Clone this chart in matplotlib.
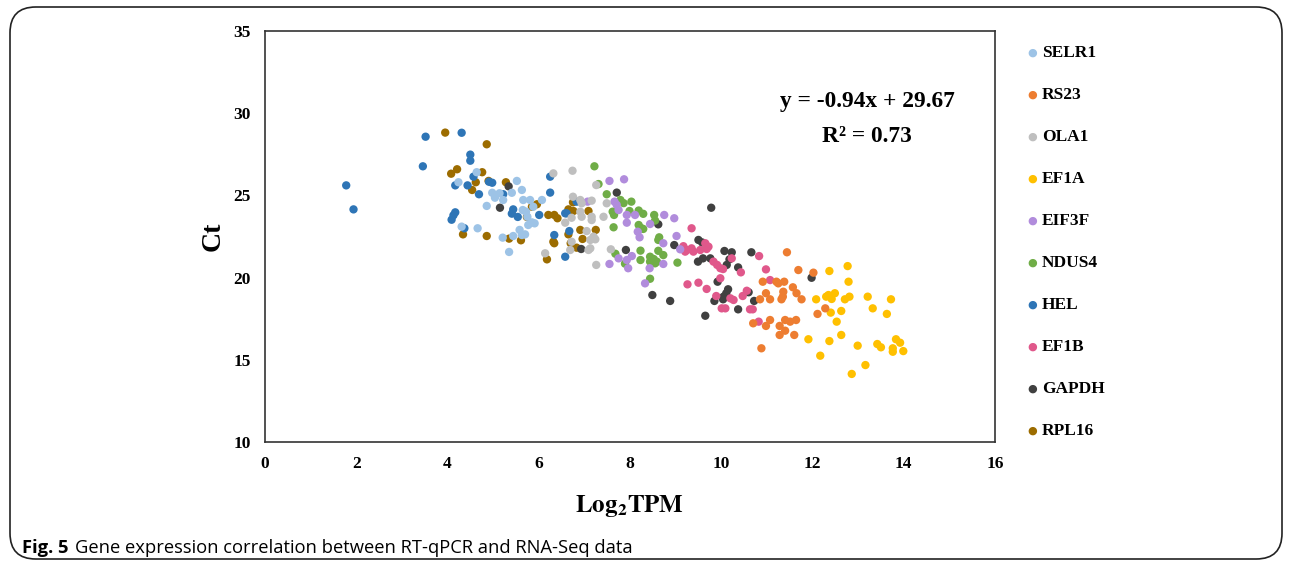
import matplotlib.pyplot as plt
from matplotlib.patches import FancyBboxPatch

plt.rcParams['mathtext.fontset'] = 'stix'

genes = ['SELR1', 'RS23', 'OLA1', 'EF1A', 'EIF3F', 'NDUS4', 'HEL', 'EF1B', 'GAPDH', 'RPL16']
colors = ['#9DC3E6', '#ED7D31', '#BFBFBF', '#FFC000', '#B18CDC',
          '#70AD47', '#2E75B6', '#E0588B', '#404040', '#9C6C00']

# (Log2TPM, Ct)
selr1_x = [4.64, 4.24, 4.98, 5.04, 5.14, 5.41, 5.52, 5.63, 5.22, 4.86, 5.66, 5.81, 5.65, 5.72,
           6.07, 5.88, 5.75, 5.85, 5.77, 5.91, 4.31, 4.66, 5.21, 5.44, 5.58, 5.63, 5.35, 5.70]
selr1_y = [26.41, 25.80, 25.16, 24.86, 25.13, 25.16, 25.88, 25.33, 24.72, 24.36, 24.72, 24.72, 24.11, 24.01,
           24.72, 24.31, 23.70, 23.36, 23.20, 23.30, 23.10, 23.00, 22.43, 22.53, 22.90, 22.59, 21.56, 22.63]

rs23_x = [11.44, 11.69, 12.02, 10.91, 11.21, 11.25, 11.38, 10.98, 11.36, 11.57, 11.65, 11.76, 10.85, 11.07,
          11.32, 11.35, 10.70, 10.98, 11.07, 11.28, 11.40, 11.51, 11.64, 11.28, 11.40, 11.60, 10.88, 12.11, 12.28]
rs23_y = [21.54, 20.46, 20.30, 19.75, 19.75, 19.65, 19.75, 19.05, 19.14, 19.41, 19.05, 18.68, 18.68, 18.68,
          18.68, 18.84, 17.22, 17.06, 17.42, 17.06, 17.42, 17.32, 17.42, 16.51, 16.77, 16.51, 15.70, 17.79, 18.13]

ola1_x = [6.32, 6.74, 7.26, 7.49, 7.42, 7.16, 6.75, 6.91, 6.94, 6.91, 6.94, 7.16, 7.16, 6.58,
          6.72, 7.05, 7.20, 7.24, 7.13, 7.09, 7.13, 7.26, 7.58, 6.14, 6.72, 6.69]
ola1_y = [26.34, 26.50, 25.63, 24.52, 23.70, 24.68, 24.92, 24.72, 24.52, 24.01, 23.70, 23.70, 23.50, 23.34,
          23.64, 22.83, 22.49, 22.33, 22.29, 21.68, 21.78, 20.77, 21.72, 21.48, 22.18, 21.68]

ef1a_x = [12.37, 12.77, 12.79, 12.08, 12.30, 12.35, 12.49, 12.42, 12.71, 12.81, 12.40, 12.63, 12.53, 12.63,
          11.91, 12.37, 12.17, 13.21, 13.72, 13.32, 13.63, 12.99, 13.42, 13.50, 13.83, 13.92, 13.76, 13.76,
          13.99, 13.16, 12.86]
ef1a_y = [20.40, 20.70, 19.75, 18.68, 18.84, 18.94, 19.05, 18.70, 18.68, 18.84, 17.87, 17.97, 17.32, 16.51,
          16.25, 16.14, 15.25, 18.84, 18.68, 18.13, 17.79, 15.86, 15.96, 15.76, 16.25, 16.04, 15.70, 15.49,
          15.53, 14.68, 14.14]

eif3f_x = [7.55, 7.87, 7.07, 7.66, 7.71, 7.75, 7.93, 8.11, 7.93, 8.44, 8.75, 8.97, 8.17, 8.21,
           8.73, 9.02, 9.10, 8.04, 7.75, 7.93, 7.96, 7.55, 8.43, 8.73, 8.33]
eif3f_y = [25.88, 25.98, 24.62, 24.62, 24.42, 24.11, 23.81, 23.81, 23.34, 23.26, 23.81, 23.61, 22.79, 22.45,
           22.09, 22.53, 21.72, 21.31, 21.17, 21.07, 20.57, 20.83, 20.57, 20.83, 19.65]

ndus4_x = [7.22, 7.31, 7.49, 7.79, 7.86, 8.03, 7.62, 7.65, 7.99, 8.19, 8.29, 8.53, 8.55, 8.19, 8.25, 8.29,
           7.64, 8.64, 8.62, 7.68, 7.89, 8.23, 8.23, 8.44, 8.52, 8.59, 8.44, 8.55, 8.62, 8.73, 9.04, 8.44]
ndus4_y = [26.77, 25.69, 25.07, 24.72, 24.53, 24.62, 24.01, 23.81, 24.05, 24.08, 23.88, 23.81, 23.47, 23.20,
           23.00, 22.96, 23.06, 22.45, 22.29, 21.45, 20.85, 21.64, 21.07, 21.27, 21.13, 20.97, 20.97, 20.87,
           21.63, 21.37, 20.91, 19.93]

hel_x = [3.52, 4.31, 3.46, 1.78, 1.94, 4.50, 4.50, 4.57, 4.17, 4.44, 4.69, 4.91, 4.98, 5.22, 4.17, 4.13,
         4.09, 4.37, 5.44, 5.41, 5.54, 6.01, 6.25, 6.25, 6.34, 6.58, 6.58, 6.67, 6.61, 6.83]
hel_y = [28.57, 28.81, 26.77, 25.61, 24.15, 27.48, 27.11, 26.14, 25.61, 25.61, 25.07, 25.83, 25.77, 25.07,
         23.97, 23.79, 23.52, 23.00, 24.15, 23.89, 23.69, 23.81, 26.14, 25.17, 22.59, 23.91, 21.27, 22.83,
         23.91, 24.62]

ef1b_x = [9.35, 9.17, 9.25, 9.35, 9.54, 9.68, 9.65, 9.72, 9.21, 9.39, 9.83, 9.91, 9.98, 10.04, 10.23, 10.43,
          10.83, 10.98, 11.07, 9.98, 9.26, 9.50, 9.68, 9.89, 10.20, 10.27, 10.01, 10.09, 10.47, 10.56, 10.63,
          10.69, 10.82]
ef1b_y = [23.00, 21.91, 21.68, 21.78, 21.68, 21.74, 22.09, 21.88, 21.58, 21.58, 20.97, 20.77, 20.57, 20.52,
          21.17, 20.32, 21.31, 20.50, 19.85, 19.96, 19.59, 19.69, 19.31, 18.88, 18.74, 18.64, 18.13, 18.13,
          18.88, 19.20, 18.07, 18.07, 17.32]

gapdh_x = [5.34, 5.15, 7.71, 8.62, 6.93, 7.91, 8.97, 9.50, 9.58, 9.78, 10.07, 10.23, 10.66, 9.49, 9.60, 9.76,
           10.18, 10.12, 10.37, 9.92, 10.15, 10.11, 10.05, 10.04, 9.85, 10.60, 10.72, 10.37, 9.65, 11.98,
           8.49, 8.88]
gapdh_y = [25.55, 24.25, 25.17, 23.24, 21.74, 21.68, 21.98, 22.29, 22.14, 24.25, 21.62, 21.54, 21.54, 20.97,
           21.17, 21.17, 21.11, 20.77, 20.62, 19.75, 19.29, 19.05, 18.84, 18.68, 18.58, 19.11, 18.58, 18.07,
           17.68, 19.99, 18.94, 18.58]

rpl16_x = [3.95, 4.86, 4.08, 4.21, 4.76, 4.62, 4.90, 4.54, 5.28, 5.74, 4.34, 4.86, 5.35, 5.61, 5.85, 5.96,
           6.21, 6.34, 6.41, 6.32, 6.34, 6.18, 6.75, 6.65, 6.76, 7.09, 6.91, 7.25, 6.65, 6.96, 6.70, 6.83]
rpl16_y = [28.82, 28.11, 26.32, 26.59, 26.41, 25.80, 25.88, 25.33, 25.80, 23.69, 22.63, 22.53, 22.37, 22.27,
           24.31, 24.46, 23.81, 23.81, 23.61, 22.18, 22.09, 21.11, 24.58, 24.15, 24.05, 24.05, 22.90, 22.90,
           22.63, 22.35, 22.09, 21.82]

series = [(selr1_x, selr1_y), (rs23_x, rs23_y), (ola1_x, ola1_y), (ef1a_x, ef1a_y), (eif3f_x, eif3f_y),
          (ndus4_x, ndus4_y), (hel_x, hel_y), (ef1b_x, ef1b_y), (gapdh_x, gapdh_y), (rpl16_x, rpl16_y)]

serif = 'Liberation Serif'

fig = plt.figure(figsize=(12.9, 5.63), dpi=100)

# rounded frame around the whole figure
frame = FancyBboxPatch((10 / 1290, 4 / 563), 1272 / 1290, 552 / 563,
                       boxstyle='round,pad=0,rounding_size=0.02', transform=fig.transFigure,
                       facecolor='none', edgecolor='#222222', linewidth=1.2, mutation_aspect=1290 / 563)
fig.patches.append(frame)

ax = fig.add_axes([265 / 1290, 1 - 442 / 563, 730 / 1290, 411 / 563])
# draw in reverse so the first series ends up on top
for i in range(len(series) - 1, -1, -1):
    x, y = series[i]
    ax.scatter(x, y, s=36, color=colors[i], edgecolors='none', zorder=3)

ax.set_xlim(0, 16)
ax.set_ylim(10, 35)
ax.set_xticks(range(0, 17, 2))
ax.set_yticks(range(10, 36, 5))
ax.tick_params(length=0, pad=10)
for lab in ax.get_xticklabels() + ax.get_yticklabels():
    lab.set_fontfamily(serif)
    lab.set_fontweight('bold')
    lab.set_fontsize(12.5)
for sp in ax.spines.values():
    sp.set_color('#333333')
    sp.set_linewidth(1.2)

ax.set_xlabel('$\\mathbf{Log_{2}TPM}$', fontsize=18, labelpad=15)
ax.set_ylabel('Ct', fontfamily=serif, fontweight='bold', fontsize=20, labelpad=6)

fig.text(867 / 1290, 1 - 101 / 563, 'y = -0.94x + 29.67', fontfamily=serif, fontweight='bold',
         fontsize=16.8, ha='center', va='center')
fig.text(867 / 1290, 1 - 137 / 563, 'R² = 0.73', fontfamily=serif, fontweight='bold',
         fontsize=16.8, ha='center', va='center')

# legend on the right
for i, g in enumerate(genes):
    yy = 1 - (53 + i * 42) / 563
    fig.text(1032 / 1290, yy, '\u25CF', color=colors[i], fontsize=8, ha='center', va='center')
    fig.text(1042 / 1290, yy, g, fontfamily=serif, fontweight='bold', fontsize=12.5,
             ha='left', va='center')

# caption
fig.text(22 / 1290, 1 - 548 / 563, 'Fig. 5', fontfamily='Open Sans', fontweight='bold',
         fontsize=13.2, ha='left', va='center')
fig.text(75 / 1290, 1 - 548 / 563, 'Gene expression correlation between RT-qPCR and RNA-Seq data',
         fontfamily='Open Sans', fontsize=13.2, ha='left', va='center')

fig.savefig('out.png', dpi=100)
